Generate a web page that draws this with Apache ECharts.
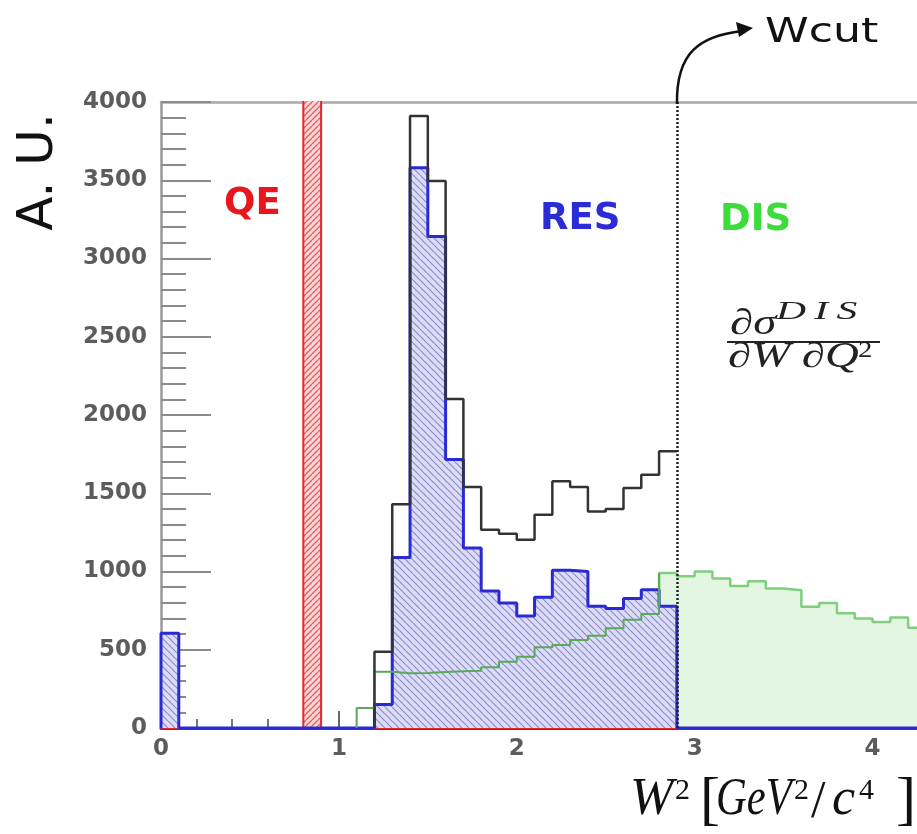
<!DOCTYPE html>
<html>
<head>
<meta charset="utf-8">
<script src="https://cdn.jsdelivr.net/npm/echarts@6/dist/echarts.min.js"></script>
<style>
  html, body { margin: 0; padding: 0; background: #ffffff; }
  #chart { width: 917px; height: 834px; }
</style>
</head>
<body>
<div id="chart"></div>
<script>
// W^2 histograms, bin width 0.1 GeV^2/c^4
const binWidth = 0.1;
const wCut = 2.9;

// Quasi-elastic contribution (0.8-0.9 bin runs past the top of the frame)
const qeStart = 0.0;
const qeCounts = [0, 0, 0, 0, 0, 0, 0, 0, 4400, 0,
                  0, 0, 0, 0, 0, 0, 0, 0, 0, 0,
                  0, 0, 0, 0, 0, 0, 0, 0, 0];

// Resonance contribution
const resStart = 0.0;
const resCounts = [605, 0, 0, 0, 0, 0, 0, 0, 0, 0,
                   0, 0, 150, 1090, 3580, 3140, 1715, 1150, 875, 798,
                   715, 835, 1008, 1000, 778, 763, 828, 884, 778, 0,
                   0, 0, 0, 0, 0, 0, 0, 0, 0, 0,
                   0, 0, 0];

// DIS contribution; filled from disFillFrom upward
const disStart = 1.1;
const disFillFrom = 2.8;
const disCounts = [128, 360, 350, 352, 358, 362, 366, 388, 424, 456,
                   516, 531, 563, 589, 638, 691, 729, 990, 970, 1000,
                   955, 908, 938, 892, 880, 774, 798, 734, 700, 678,
                   706, 640];

// Sum below the cut
const totStart = 1.2;
const totCounts = [488, 1430, 3910, 3495, 2103, 1540, 1267, 1242, 1203, 1363,
                   1576, 1540, 1384, 1399, 1533, 1619, 1768];

// Axis ticks
const xMajorTicks = [0, 1, 2, 3, 4];
const xMinorTicks = [0.2, 0.4, 0.6, 0.8, 1.2, 1.4, 1.6, 1.8, 2.2, 2.4, 2.6, 2.8,
                     3.2, 3.4, 3.6, 3.8, 4.2];
const yMax = 4000;
const yStep = 500;

// Turn bin contents into step-line vertices
function stepPoints(start, counts, closeToZero) {
  const pts = [[start, 0]];
  counts.forEach((v, i) => pts.push([+(start + i * binWidth).toFixed(2), v]));
  const end = +(start + counts.length * binWidth).toFixed(2);
  pts.push([end, closeToZero ? 0 : counts[counts.length - 1]]);
  return pts;
}

// Diagonal hatch tiles
function hatch(bg, fg, size, lw, rising) {
  const c = document.createElement('canvas');
  c.width = size; c.height = size;
  const g = c.getContext('2d');
  g.fillStyle = bg;
  g.fillRect(0, 0, size, size);
  g.strokeStyle = fg;
  g.lineWidth = lw;
  g.beginPath();
  for (const k of [-size, 0, size]) {
    if (rising) { g.moveTo(k, size); g.lineTo(k + size, 0); }
    else { g.moveTo(k, 0); g.lineTo(k + size, size); }
  }
  g.stroke();
  return { image: c, repeat: 'repeat' };
}

const splitIdx = Math.round((disFillFrom - disStart) / binWidth);
const disBelow = disCounts.slice(0, splitIdx);
const disAbove = disCounts.slice(splitIdx);
const disLineData = stepPoints(disStart, disBelow, false);
disLineData[disLineData.length - 1] = [disFillFrom, disAbove[0]];

const xMax = 4.25;
const axisGray = '#8a8a8a';
const labelStyle = { color: '#5c5c5c', fontFamily: 'DejaVu Sans', fontWeight: 'bold', fontSize: 23 };

const chart = echarts.init(document.getElementById('chart'), null, { renderer: 'canvas' });

const serif = '"Liberation Serif", "DejaVu Serif", serif';

function txt(text, x, y, font, fill, opts) {
  return Object.assign({
    type: 'text', x: x, y: y, z: 100,
    style: { text: text, font: font, fill: fill, align: 'left', verticalAlign: 'middle' }
  }, opts || {});
}

chart.setOption({
  animation: false,
  backgroundColor: '#ffffff',
  grid: { left: 161, right: 0, top: 102, bottom: 106, containLabel: false },
  xAxis: [
    {
      type: 'value', min: 0, max: xMax, position: 'bottom',
      axisLine: { show: true, onZero: false, lineStyle: { color: '#3434c8', width: 3 } },
      axisTick: { show: true, inside: true, length: 17, customValues: xMajorTicks,
                  lineStyle: { color: '#666', width: 2 } },
      axisLabel: Object.assign({ show: true, margin: 10, customValues: xMajorTicks,
                                 formatter: v => String(v) }, labelStyle),
      splitLine: { show: false }
    },
    {
      type: 'value', min: 0, max: xMax, position: 'bottom',
      axisLine: { show: false },
      axisTick: { show: true, inside: true, length: 9, customValues: xMinorTicks,
                  lineStyle: { color: '#777', width: 2 } },
      axisLabel: { show: false },
      splitLine: { show: false }
    },
    {
      type: 'value', min: 0, max: xMax, position: 'top',
      axisLine: { show: true, lineStyle: { color: '#a8a8a8', width: 2.5 } },
      axisTick: { show: false }, axisLabel: { show: false }, splitLine: { show: false }
    }
  ],
  yAxis: {
    type: 'value', min: 0, max: yMax, interval: yStep,
    axisLine: { show: true, lineStyle: { color: '#9a9a9a', width: 2.5 } },
    axisTick: { show: true, inside: true, length: 50, lineStyle: { color: axisGray, width: 2 } },
    minorTick: { show: true, splitNumber: 5, length: 25, lineStyle: { color: axisGray, width: 2 } },
    axisLabel: Object.assign({ margin: 14, formatter: v => String(v) }, labelStyle),
    splitLine: { show: false }
  },
  series: [
    {
      name: 'QE', type: 'line', step: 'end', showSymbol: false, clip: true, z: 1,
      data: stepPoints(qeStart, qeCounts, true),
      lineStyle: { color: '#e8262a', width: 2 },
      areaStyle: { color: hatch('#fbd6d6', '#e85a5a', 6, 1.3, true), opacity: 1 }
    },
    {
      name: 'DIS', type: 'line', step: 'end', showSymbol: false, clip: true, z: 3,
      data: stepPoints(disFillFrom, disAbove, true),
      lineStyle: { color: '#7fcf7f', width: 2.5 },
      areaStyle: { color: '#e2f6e2', opacity: 1 }
    },
    {
      name: 'RES', type: 'line', step: 'end', showSymbol: false, clip: true, z: 4,
      data: stepPoints(resStart, resCounts, true),
      lineStyle: { color: '#2a2ad4', width: 3 },
      areaStyle: { color: hatch('#dcdcf6', '#8a8ad0', 7, 1.2, false), opacity: 1 }
    },
    {
      name: 'DIS below cut', type: 'line', step: 'end', showSymbol: false, clip: true, z: 5,
      data: disLineData,
      lineStyle: { color: '#5aa85a', width: 2 }
    },
    {
      name: 'Total', type: 'line', step: 'end', showSymbol: false, clip: true, z: 6,
      data: stepPoints(totStart, totCounts, false),
      lineStyle: { color: '#333333', width: 2.5 },
      markLine: {
        silent: true, symbol: ['none', 'none'], label: { show: false },
        lineStyle: { color: '#222222', width: 2.5, type: [2, 2] },
        data: [{ xAxis: wCut }]
      }
    }
  ],
  graphic: [
    // y-axis title
    txt('A. U.', 39, 172, '50px "DejaVu Sans"', '#111', { rotation: Math.PI / 2,
      style: { text: 'A. U.', font: '50px "DejaVu Sans"', fill: '#111', align: 'center', verticalAlign: 'middle' } }),
    // region labels
    txt('QE', 224, 204, 'bold 37px "DejaVu Sans"', '#e8161c'),
    txt('RES', 540, 219, 'bold 37px "DejaVu Sans"', '#2b2bd8'),
    txt('DIS', 720, 220, 'bold 37px "DejaVu Sans"', '#3ddc3d'),
    // cut marker
    {
      type: 'bezierCurve', z: 100,
      shape: { x1: 677, y1: 104, x2: 742, y2: 31, cpx1: 676, cpy1: 52, cpx2: 700, cpy2: 36 },
      style: { stroke: '#111', lineWidth: 2.5, fill: null }
    },
    {
      type: 'polygon', z: 100,
      shape: { points: [[753, 28], [736, 22], [739, 37]] },
      style: { fill: '#111' }
    },
    txt('Wcut', 765, 33, '34px "DejaVu Sans"', '#111', { scaleX: 1.3 }),
    // DIS cross section
    txt('\u2202\u03c3', 730, 325, 'italic 36px ' + serif, '#222', { scaleX: 1.3 }),
    txt('D\u2009I\u2009S', 776, 312, 'italic 26px ' + serif, '#222', { scaleX: 1.6 }),
    {
      type: 'line', z: 100,
      shape: { x1: 727, y1: 342, x2: 880, y2: 342 },
      style: { stroke: '#222', lineWidth: 2 }
    },
    txt('\u2202W \u2202Q', 728, 358, 'italic 36px ' + serif, '#222', { scaleX: 1.3 }),
    txt('2', 858, 351, '24px ' + serif, '#222', { scaleX: 1.2 }),
    // x-axis title
    txt('W', 630, 800, 'italic 52px ' + serif, '#111'),
    txt('2', 675, 791, '30px ' + serif, '#111'),
    txt('[', 700, 802, '60px ' + serif, '#111'),
    txt('GeV', 716, 800, 'italic 52px ' + serif, '#111', { scaleX: 0.82 }),
    txt('2', 794, 791, '30px ' + serif, '#111'),
    txt('/', 811, 803, '52px ' + serif, '#111'),
    txt('c', 832, 800, 'italic 52px ' + serif, '#111'),
    txt('4', 859, 791, '30px ' + serif, '#111'),
    txt(']', 896, 802, '60px ' + serif, '#111')
  ]
});
</script>
</body>
</html>
